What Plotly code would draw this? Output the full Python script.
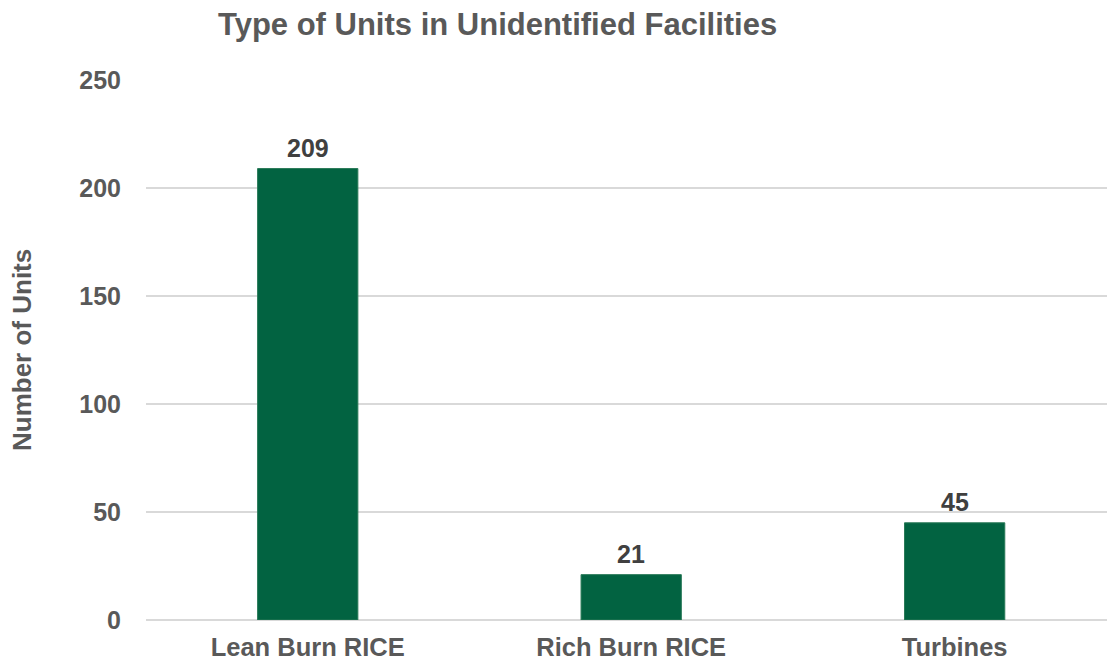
import plotly.graph_objects as go

categories = ["Lean Burn RICE", "Rich Burn RICE", "Turbines"]
values = [209, 21, 45]
y_ticks = [0, 50, 100, 150, 200, 250]

L, R, T, B = 146, 0, 80, 43
W, H = 1107, 663
pw = W - L - R
ph = H - T - B
FONT = "Liberation Sans, Arial"

fig = go.Figure(go.Bar(
    x=[0, 1, 2], y=values,
    width=0.31,
    marker=dict(color="#026341", line=dict(color="#2a7a58", width=1)),
    hoverinfo="skip",
))

annotations = [
    dict(text="Type of Units in Unidentified Facilities",
         x=(497 - L) / pw, xref="paper", y=(H - B - 24) / ph, yref="paper",
         showarrow=False, xanchor="center", yanchor="middle",
         font=dict(family=FONT, size=31, color="#595959", weight="bold")),
    dict(text="Number of Units", textangle=-90,
         x=(22 - L) / pw, xref="paper", y=0.5, yref="paper",
         showarrow=False, xanchor="center", yanchor="middle",
         font=dict(family=FONT, size=26, color="#595959", weight="bold")),
]
for i, v in enumerate(values):
    annotations.append(dict(
        text=str(v), x=i, y=v, xref="x", yref="y",
        showarrow=False, xanchor="center", yanchor="bottom", yshift=5,
        font=dict(family=FONT, size=25, color="#404040", weight="bold"),
    ))

fig.update_layout(
    width=W, height=H,
    margin=dict(l=L, r=R, t=T, b=B, autoexpand=False),
    paper_bgcolor="white", plot_bgcolor="white",
    showlegend=False,
    xaxis=dict(
        range=[-0.5, 2.471], automargin=False,
        tickvals=[0, 1, 2], ticktext=categories,
        showgrid=False, zeroline=False, showline=False,
        ticks="", ticklabelstandoff=9,
        tickfont=dict(family=FONT, size=25.5, color="#595959", weight="bold"),
    ),
    yaxis=dict(
        range=[0, 250], automargin=False,
        tickvals=y_ticks,
        showgrid=True, gridcolor="#d9d9d9", gridwidth=1.5,
        zeroline=True, zerolinecolor="#d9d9d9", zerolinewidth=1.5,
        showline=False, ticks="", ticklabelstandoff=24,
        tickfont=dict(family=FONT, size=25, color="#595959", weight="bold"),
    ),
    annotations=annotations,
)

fig.write_html("out.html")
